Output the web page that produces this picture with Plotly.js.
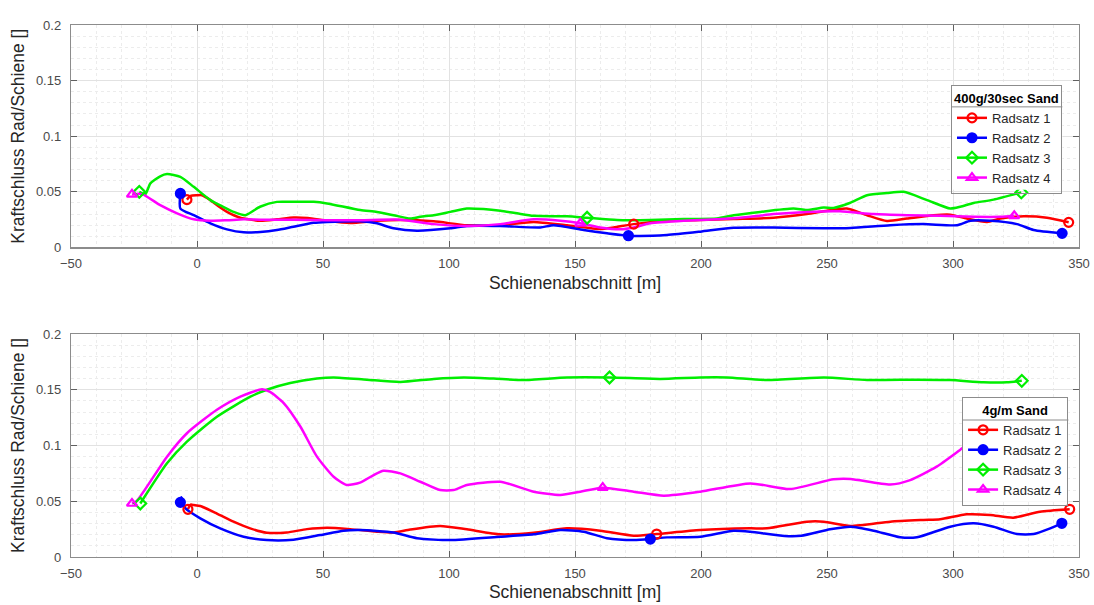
<!DOCTYPE html>
<html>
<head>
<meta charset="utf-8">
<script src="https://cdn.plot.ly/plotly-3.0.1.min.js"></script>
<style>html,body{margin:0;padding:0;background:#fff;}#chart{width:1094px;height:605px;}</style>
</head>
<body>
<div id="chart"></div>
<script>
// ---------- data: top panel (400g/30sec Sand) ----------
const seriesNames = ['Radsatz 1', 'Radsatz 2', 'Radsatz 3', 'Radsatz 4'];
const legendTitleTop = '400g/30sec Sand';
const legendTitleBottom = '4g/m Sand';
const xTitle = 'Schienenabschnitt [m]';
const yTitle = 'Kraftschluss Rad/Schiene []';

const topX1 = [-4, -2.5, 0, 2, 5.3, 8.5, 11.9, 17.2, 25.1, 31.7, 38.3, 44, 51.6, 60.8, 71.4, 80.7, 93.9, 107.1, 120.4, 133.6, 146.8, 160, 165.3, 173.3, 186.5, 199.7, 213, 228.8, 242, 250, 257.9, 265.9, 273.8, 281.7, 292.3, 298.9, 305.5, 313.5, 318.8, 328, 337.3, 345.9];
const topY1 = [0.043, 0.0465, 0.047, 0.047, 0.0426, 0.037, 0.032, 0.0267, 0.024, 0.0253, 0.027, 0.0265, 0.024, 0.022, 0.024, 0.0247, 0.0235, 0.020, 0.020, 0.023, 0.020, 0.0166, 0.018, 0.021, 0.0238, 0.0247, 0.0256, 0.0267, 0.030, 0.033, 0.035, 0.029, 0.0238, 0.026, 0.029, 0.0295, 0.026, 0.023, 0.026, 0.028, 0.0267, 0.0226];

const topX2 = [-6.6, -6.6, -1.3, 5.3, 11.9, 18.5, 25.1, 31.7, 38.3, 46.3, 51.6, 64.8, 71.4, 78, 87.3, 100.5, 107.1, 120.4, 136.2, 141.5, 153.4, 162.7, 171.2, 186.5, 199.7, 213, 228.8, 248.7, 259.3, 275.1, 288.3, 301.6, 306.9, 314.8, 325.4, 332, 343.3];
const topY2 = [0.0486, 0.035, 0.029, 0.0217, 0.0163, 0.0136, 0.014, 0.0157, 0.0187, 0.0222, 0.023, 0.0235, 0.0217, 0.0172, 0.015, 0.0172, 0.0193, 0.0193, 0.018, 0.020, 0.0157, 0.0127, 0.0106, 0.0112, 0.0142, 0.0178, 0.018, 0.0172, 0.0175, 0.020, 0.021, 0.020, 0.024, 0.024, 0.021, 0.0157, 0.0127];

const topX3 = [-22.9, -20.5, -18.5, -14.6, -11.9, -6.6, -1.3, 5.3, 10, 14.5, 19.2, 25, 31.7, 38.3, 46.3, 51.6, 64.8, 71.4, 78, 84.6, 88.6, 93.9, 100.5, 107.1, 113.7, 120.4, 127, 133.6, 146.8, 154.8, 166.7, 179.9, 193.1, 206.3, 213, 223.5, 236.7, 242, 248.7, 252.6, 259, 265.9, 273.8, 280.4, 289.7, 298.9, 302.9, 308.2, 316.1, 327.1];
const topY3 = [0.050, 0.048, 0.0576, 0.064, 0.066, 0.0635, 0.0545, 0.0426, 0.037, 0.032, 0.029, 0.0366, 0.041, 0.041, 0.041, 0.0396, 0.0336, 0.032, 0.029, 0.026, 0.0276, 0.029, 0.032, 0.035, 0.0345, 0.033, 0.0307, 0.0285, 0.028, 0.0267, 0.0247, 0.0247, 0.0256, 0.026, 0.029, 0.032, 0.035, 0.0336, 0.036, 0.0356, 0.040, 0.047, 0.049, 0.050, 0.0426, 0.035, 0.0366, 0.040, 0.043, 0.0495];

const topX4 = [-25.8, -21.8, -14.6, -7.9, -1.3, 5.3, 11.9, 18.5, 25.1, 38.3, 51.6, 64.8, 80.7, 93.9, 107.1, 120.4, 133.6, 144.2, 152.1, 160, 168, 173.3, 179.9, 193.1, 206.3, 219.6, 228.8, 242, 255.2, 268.5, 281.7, 294.9, 308.2, 318.8, 324.3];
const topY4 = [0.0477, 0.048, 0.038, 0.0307, 0.0253, 0.024, 0.0245, 0.0253, 0.025, 0.025, 0.0245, 0.0245, 0.025, 0.021, 0.0193, 0.021, 0.0253, 0.024, 0.0217, 0.018, 0.0163, 0.018, 0.0217, 0.024, 0.0253, 0.0276, 0.030, 0.032, 0.0325, 0.030, 0.029, 0.0285, 0.0276, 0.0276, 0.0285];

const topMidMarkX = [173.3, 171.2, 154.8, 152.1];

// ---------- data: bottom panel (4g/m Sand) ----------
const botX1 = [-3.6, -2.5, -1.3, 1.3, 7.9, 14.5, 21.1, 27.7, 35.6, 43.6, 51.6, 60.8, 71.4, 78, 84.6, 96.5, 107.1, 120.4, 133.6, 146.8, 160, 173.3, 182.4, 199.7, 219.6, 226.2, 242, 248.7, 259.3, 275.1, 288.3, 294.9, 305.5, 314.8, 323.9, 334.5, 346.3];
const botY1 = [0.0428, 0.047, 0.0466, 0.0457, 0.039, 0.0317, 0.0257, 0.0218, 0.022, 0.025, 0.0263, 0.025, 0.0227, 0.022, 0.0246, 0.0278, 0.0248, 0.0203, 0.0218, 0.0257, 0.0236, 0.0191, 0.0206, 0.0242, 0.0257, 0.0257, 0.0317, 0.0317, 0.0278, 0.0317, 0.0332, 0.0338, 0.0383, 0.0377, 0.0353, 0.0406, 0.0428];

const botX2 = [-6.6, -6.2, -4.6, 1.3, 9.2, 18.5, 27.7, 38.3, 48.9, 58.2, 64.8, 78, 87.3, 100.5, 120.4, 133.6, 144.2, 153.4, 162.7, 173.3, 179.9, 186.5, 199.7, 213, 219.6, 233.2, 239.8, 251.2, 259.3, 268.5, 279, 285.7, 298.9, 308.2, 316.1, 325.4, 332, 338.6, 343.2];
const botY2 = [0.049, 0.0535, 0.0437, 0.0347, 0.0257, 0.0182, 0.0152, 0.0155, 0.0197, 0.0236, 0.0242, 0.022, 0.0168, 0.0152, 0.0182, 0.0203, 0.0242, 0.0227, 0.0168, 0.0152, 0.0161, 0.0176, 0.0182, 0.0236, 0.0227, 0.0188, 0.019, 0.0248, 0.0272, 0.0236, 0.0177, 0.0177, 0.0272, 0.0302, 0.0272, 0.0206, 0.0206, 0.0257, 0.0302];

const botX3 = [-22.5, -11.9, -4, 7.9, 21.2, 27.7, 37, 47.6, 54.2, 67.4, 80.7, 93.9, 105.8, 117.7, 129.6, 146.8, 163.7, 183.8, 199.7, 210.3, 226.2, 248.7, 265.9, 285.7, 298.9, 312.1, 321.4, 327.3];
const botY3 = [0.048, 0.084, 0.1034, 0.1258, 0.1438, 0.15, 0.156, 0.160, 0.161, 0.159, 0.157, 0.1597, 0.161, 0.16, 0.1587, 0.161, 0.161, 0.1597, 0.161, 0.161, 0.1587, 0.161, 0.1587, 0.159, 0.1587, 0.1567, 0.1567, 0.158];

const botX4 = [-25.8, -24, -11.9, -4, 7.9, 17.2, 25.8, 29, 34.4, 41, 47.6, 54.2, 59.4, 64.7, 70.1, 74, 80.7, 88.6, 96.5, 101.8, 107.1, 120.4, 133.6, 144.2, 152.1, 161, 173.3, 185.2, 199.7, 219.6, 235.4, 252.6, 259.3, 275.1, 283, 293.5, 302.8, 310, 318, 325];
const botY4 = [0.048, 0.050, 0.090, 0.111, 0.132, 0.1438, 0.1504, 0.148, 0.138, 0.117, 0.090, 0.072, 0.0646, 0.0667, 0.0735, 0.0774, 0.075, 0.0675, 0.060, 0.060, 0.0646, 0.0675, 0.0586, 0.0556, 0.0586, 0.0622, 0.0586, 0.055, 0.0586, 0.066, 0.061, 0.0697, 0.070, 0.065, 0.069, 0.081, 0.096, 0.108, 0.12, 0.13];

const botMidMarkX = [182.4, 179.9, 163.7, 161];

const xTickVals = [-50, 0, 50, 100, 150, 200, 250, 300, 350];
const yTickVals = [0, 0.05, 0.1, 0.15, 0.2];
const yTickText = ['0', '0.05', '0.1', '0.15', '0.2'];

// ---------- styles ----------
const colors = ['#ff0000', '#0000ff', '#00ee00', '#ff00ff'];
const symbols = ['circle-open', 'circle', 'diamond-open', 'triangle-up-open'];

function markerPoints(xs, ys, midX) {
  let mi = 0, best = Infinity;
  xs.forEach((v, i) => { const d = Math.abs(v - midX); if (d < best) { best = d; mi = i; } });
  const last = xs.length - 1;
  return {
    x: [xs[0], null, xs[mi], null, xs[last]],
    y: [ys[0], null, ys[mi], null, ys[last]]
  };
}

const traces = [];
function addPanel(xsList, ysList, midList, xa, ya, legendId) {
  xsList.forEach((xs, i) => {
    traces.push({
      x: xs, y: ysList[i], xaxis: xa, yaxis: ya, type: 'scatter', mode: 'lines',
      line: {color: colors[i], width: 2.5, shape: 'spline', smoothing: 0.6},
      showlegend: false, hoverinfo: 'skip'
    });
  });
  xsList.forEach((xs, i) => {
    const mp = markerPoints(xs, ysList[i], midList[i]);
    traces.push({
      x: mp.x, y: mp.y, xaxis: xa, yaxis: ya, type: 'scatter', mode: 'lines+markers',
      connectgaps: false, name: seriesNames[i], legend: legendId,
      line: {color: colors[i], width: 2.5},
      marker: {symbol: symbols[i], size: 9, color: colors[i], line: {color: colors[i], width: 2.2}}
    });
  });
}
addPanel([topX1, topX2, topX3, topX4], [topY1, topY2, topY3, topY4], topMidMarkX, 'x', 'y', 'legend');
addPanel([botX1, botX2, botX3, botX4], [botY1, botY2, botY3, botY4], botMidMarkX, 'x2', 'y2', 'legend2');

const fam = 'Liberation Sans, Arial, sans-serif';
const axisFont = {family: fam, size: 13, color: '#4a4a4a'};
const titleFont = {family: fam, size: 17.5, color: '#262626'};

function xAxis(anchor) {
  return {
    anchor: anchor, domain: [0, 1], range: [-50, 350],
    tickvals: xTickVals, ticks: 'inside', ticklen: 6, tickcolor: '#606060',
    showline: true, linecolor: '#8c8c8c', linewidth: 1.2, mirror: 'ticks',
    showgrid: true, gridcolor: '#e2e2e2', gridwidth: 1, zeroline: false,
    minor: {dtick: 10, showgrid: true, gridcolor: '#ececec', griddash: 'dot', gridwidth: 1},
    tickfont: axisFont, ticklabelstandoff: 4,
    title: {text: xTitle, font: titleFont, standoff: 6}
  };
}
function yAxis(anchor, domain) {
  return {
    anchor: anchor, domain: domain, range: [0, 0.2],
    tickvals: yTickVals, ticktext: yTickText, ticks: 'inside', ticklen: 6, tickcolor: '#606060',
    showline: true, linecolor: '#8c8c8c', linewidth: 1.2, mirror: 'ticks',
    showgrid: true, gridcolor: '#e2e2e2', gridwidth: 1, zeroline: false,
    minor: {dtick: 0.01, showgrid: true, gridcolor: '#ececec', griddash: 'dot', gridwidth: 1},
    tickfont: axisFont, ticklabelstandoff: 6,
    title: {text: yTitle, font: titleFont, standoff: 6}
  };
}

const legendBase = {
  bgcolor: 'rgba(0,0,0,0)', bordercolor: '#8c8c8c', borderwidth: 1,
  font: {family: fam, size: 13, color: '#262626'},
  xanchor: 'left', yanchor: 'top', tracegroupgap: 0, itemwidth: 30
};

const sepLine = {type: 'line', xref: 'paper', yref: 'paper', line: {color: '#8c8c8c', width: 1}, layer: 'above'};
const bgRect = {type: 'rect', xref: 'paper', yref: 'paper', fillcolor: '#ffffff', line: {width: 0}, layer: 'above'};

const layout = {
  width: 1094, height: 605,
  margin: {l: 71, r: 15, t: 25, b: 48},
  paper_bgcolor: '#ffffff', plot_bgcolor: '#ffffff',
  showlegend: true,
  xaxis: xAxis('y'),
  yaxis: yAxis('x', [0.5818, 1]),
  xaxis2: xAxis('y2'),
  yaxis2: yAxis('x2', [0, 0.4192]),
  legend: Object.assign({}, legendBase, {
    x: 0.873, y: 0.8872,
    title: {text: '<b>' + legendTitleTop + '</b>', side: 'top', font: {family: fam, size: 13, color: '#000'}}
  }),
  legend2: Object.assign({}, legendBase, {
    x: 0.884, y: 0.3008,
    title: {text: '<b>' + legendTitleBottom + '</b>', side: 'top center', font: {family: fam, size: 13, color: '#000'}}
  }),
  shapes: [
    Object.assign({}, bgRect, {x0: 0.8735, x1: 0.9835, y0: 0.6901, y1: 0.8866}),
    Object.assign({}, bgRect, {x0: 0.8845, x1: 0.9895, y0: 0.104, y1: 0.3}),
    Object.assign({}, sepLine, {x0: 0.8735, x1: 0.9835, y0: 0.8461, y1: 0.8461}),
    Object.assign({}, sepLine, {x0: 0.8845, x1: 0.9895, y0: 0.2575, y1: 0.2575})
  ]
};

Plotly.newPlot('chart', traces, layout, {displayModeBar: false, staticPlot: true});
</script>
</body>
</html>
